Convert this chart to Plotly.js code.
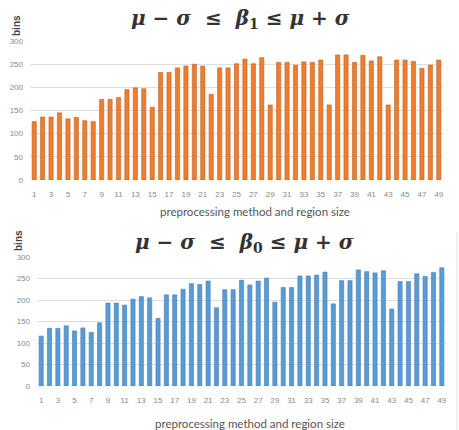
<!DOCTYPE html>
<html><head><meta charset="utf-8">
<script src="https://cdn.plot.ly/plotly-3.0.1.min.js"></script>
<style>html,body{margin:0;padding:0;background:#fff}#c{width:459px;height:430px}</style>
</head><body><div id="c"></div>
<script>
const methods = [1,2,3,4,5,6,7,8,9,10,11,12,13,14,15,16,17,18,19,20,21,22,23,24,25,26,27,28,29,30,31,32,33,34,35,36,37,38,39,40,41,42,43,44,45,46,47,48,49];
const beta1Bins = [126,136,136,145,132,135,128,126,174,174,178,195,199,197,157,232,232,242,246,250,246,185,242,242,251,261,251,264,162,254,254,248,255,254,259,162,270,270,254,269,257,266,162,259,259,256,241,248,259];
const beta0Bins = [116,134,134,140,128,135,125,147,193,193,188,202,208,205,157,212,212,225,238,236,244,182,224,224,246,235,244,251,195,229,229,256,256,258,265,191,245,245,270,266,263,268,179,243,243,261,255,264,275];
const tickVals = [1,3,5,7,9,11,13,15,17,19,21,23,25,27,29,31,33,35,37,39,41,43,45,47,49];
const W = 459, H = 430;
const px = v => v / W, py = v => 1 - v / H;

const tickFont = {family: 'Liberation Sans, Arial, sans-serif', size: 8, color: '#8a8a8a'};
const xa = (dom, anchor) => ({domain: dom, anchor: anchor, range: [0.5, 49.5], tickvals: tickVals,
  showgrid: false, zeroline: false, showline: false, ticks: '', ticklabelstandoff: 8,
  tickfont: tickFont, fixedrange: true});
const ya = (dom, anchor) => ({domain: dom, anchor: anchor, range: [0, 300], dtick: 50,
  showgrid: true, gridcolor: '#dedede', gridwidth: 1, zeroline: false, showline: false, ticks: '',
  ticklabelstandoff: 6, tickfont: tickFont, fixedrange: true});

const data = [
  {type: 'bar', x: methods, y: beta1Bins, xaxis: 'x', yaxis: 'y', width: 0.5,
   marker: {color: '#ED7D31', line: {color: '#c4621f', width: 0.6}}},
  {type: 'bar', x: methods, y: beta0Bins, xaxis: 'x2', yaxis: 'y2', width: 0.5,
   marker: {color: '#5B9BD5', line: {color: '#3f7fb8', width: 0.6}}}
];

const titleFont = {family: 'DejaVu Serif, Liberation Serif, serif', size: 20, color: '#333333'};
const axTitleFont = {family: 'Lato, Open Sans, sans-serif', size: 11.5, color: '#555555'};
const binsFont = {family: 'Liberation Sans, Arial, sans-serif', size: 10, color: '#444444'};

const layout = {
  width: W, height: H, margin: {l: 0, r: 0, t: 0, b: 0},
  paper_bgcolor: '#ffffff', plot_bgcolor: '#ffffff', showlegend: false, bargap: 0.5,
  xaxis: xa([px(30), px(443)], 'y'),
  yaxis: ya([py(180), py(41)], 'x'),
  xaxis2: xa([px(37), px(446)], 'y2'),
  yaxis2: ya([py(386), py(257)], 'x2'),
  annotations: [
    {text: '<b><i>μ − σ  ≤  β</i><sub>1</sub><i> ≤ μ + σ</i></b>', x: px(240), y: py(19), xref: 'paper', yref: 'paper',
     showarrow: false, font: titleFont, xanchor: 'center', yanchor: 'middle'},
    {text: '<b><i>μ − σ  ≤  β</i><sub>0</sub><i> ≤ μ + σ</i></b>', x: px(245), y: py(243), xref: 'paper', yref: 'paper',
     showarrow: false, font: titleFont, xanchor: 'center', yanchor: 'middle'},
    {text: 'preprocessing method and region size', x: px(255), y: py(211), xref: 'paper', yref: 'paper',
     showarrow: false, font: axTitleFont, xanchor: 'center', yanchor: 'middle'},
    {text: 'preprocessing method and region size', x: px(250), y: py(423), xref: 'paper', yref: 'paper',
     showarrow: false, font: axTitleFont, xanchor: 'center', yanchor: 'middle'},
    {text: '<b>bins</b>', x: px(16), y: py(26), xref: 'paper', yref: 'paper', textangle: -90,
     showarrow: false, font: binsFont, xanchor: 'center', yanchor: 'middle'},
    {text: '<b>bins</b>', x: px(18), y: py(241), xref: 'paper', yref: 'paper', textangle: -90,
     showarrow: false, font: binsFont, xanchor: 'center', yanchor: 'middle'}
  ],
  shapes: [
    {type: 'line', xref: 'paper', yref: 'paper', x0: px(457), x1: px(457), y0: py(232), y1: py(430),
     line: {color: '#e3e3e3', width: 1}}
  ]
};
Plotly.newPlot('c', data, layout, {displayModeBar: false, staticPlot: true});
</script></body></html>
